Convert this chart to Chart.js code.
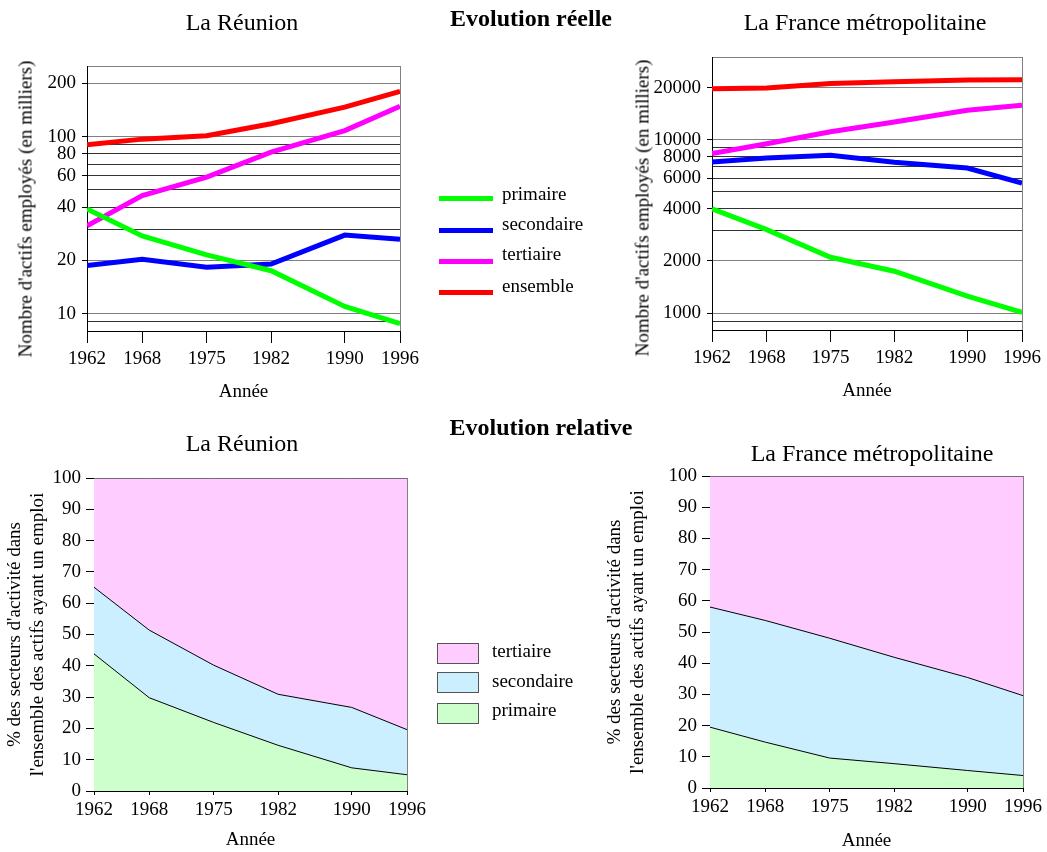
<!DOCTYPE html>
<html lang="fr">
<head>
<meta charset="utf-8">
<title>Evolution des actifs employés</title>
<script src="https://cdn.jsdelivr.net/npm/chart.js@4.4.0/dist/chart.umd.min.js"></script>
<style>
  body { margin: 0; background: #fff; font-family: 'Liberation Serif', 'Times New Roman', serif; color: #000; }
  #page { position: relative; width: 1047px; height: 852px; overflow: hidden; }
  #page canvas { position: absolute; left: 0; top: 0; }
  .txt { position: absolute; white-space: nowrap; line-height: 1; transform: translate(-50%, -50%); }
  .title { font-size: 24px; }
  .bold { font-weight: bold; }
  .ytitle { font-size: 19px; transform: translate(-50%, -50%) rotate(-90deg); }
  .leg { position: absolute; white-space: nowrap; line-height: 1; font-size: 19px; transform: translateY(-50%); }
  .swatch { position: absolute; height: 5px; width: 54px; }
  .box { position: absolute; width: 42px; height: 21px; border: 1px solid #555; box-sizing: border-box; }
</style>
</head>
<body>
<div id="page">
  <canvas id="c1" width="1047" height="852"></canvas>
  <canvas id="c2" width="1047" height="852"></canvas>
  <canvas id="c3" width="1047" height="852"></canvas>
  <canvas id="c4" width="1047" height="852"></canvas>

  <div class="txt title" style="left:242px; top:22px;">La Réunion</div>
  <div class="txt title bold" style="left:531px; top:18px;">Evolution réelle</div>
  <div class="txt title" style="left:865px; top:22px;">La France métropolitaine</div>
  <div class="txt title" style="left:242px; top:443px;">La Réunion</div>
  <div class="txt title bold" style="left:541px; top:427px;">Evolution relative</div>
  <div class="txt title" style="left:872px; top:453px;">La France métropolitaine</div>

  <div class="txt ytitle" style="left:25px; top:209px;">Nombre d'actifs employés (en milliers)</div>
  <div class="txt ytitle" style="left:642px; top:208px;">Nombre d'actifs employés (en milliers)</div>

  <div class="swatch" style="left:439px; top:196px; background:#00ff00;"></div>
  <div class="leg" style="left:502px; top:193px;">primaire</div>
  <div class="swatch" style="left:439px; top:228px; background:#0000ff;"></div>
  <div class="leg" style="left:502px; top:223px;">secondaire</div>
  <div class="swatch" style="left:439px; top:259px; background:#ff00ff;"></div>
  <div class="leg" style="left:502px; top:253px;">tertiaire</div>
  <div class="swatch" style="left:439px; top:290px; background:#ff0000;"></div>
  <div class="leg" style="left:502px; top:285px;">ensemble</div>

  <div class="box" style="left:437px; top:643px; background:#ffccff;"></div>
  <div class="leg" style="left:492px; top:650px;">tertiaire</div>
  <div class="box" style="left:437px; top:672px; background:#ccefff;"></div>
  <div class="leg" style="left:492px; top:680px;">secondaire</div>
  <div class="box" style="left:437px; top:703px; background:#ccffcc;"></div>
  <div class="leg" style="left:492px; top:709px;">primaire</div>
</div>

<script>
const years = [1962, 1968, 1975, 1982, 1990, 1996];

// La Réunion, actifs employés (milliers)
const reunionPrimaire = [39, 27.5, 21.5, 17.5, 11, 8.8];
const reunionSecondaire = [18.7, 20.3, 18.3, 19.1, 27.8, 26.3];
const reunionTertiaire = [31.4, 46.4, 59, 81.6, 108, 148];
const reunionEnsemble = [89.8, 96.7, 101, 118, 146.5, 180];

// France métropolitaine, actifs employés (milliers)
const francePrimaire = [4000, 3030, 2100, 1745, 1255, 1010];
const franceSecondaire = [7450, 7860, 8150, 7420, 6870, 5620];
const franceTertiaire = [8330, 9480, 11130, 12670, 14800, 15800];
const franceEnsemble = [19700, 19900, 21100, 21600, 22100, 22200];

// parts en %
const pctReunionPrimaire = [43.8, 29.8, 21.9, 14.6, 7.4, 5.2];
const pctReunionSecondaire = [21.3, 21.6, 18.3, 16.3, 19.3, 14.4];
const pctReunionTertiaire = [34.9, 48.6, 59.8, 69.1, 73.3, 80.4];
const pctFrancePrimaire = [19.5, 14.7, 9.6, 7.8, 5.6, 4.0];
const pctFranceSecondaire = [38.5, 39.0, 38.4, 34.1, 29.8, 25.6];
const pctFranceTertiaire = [42.0, 46.3, 52.0, 58.1, 64.6, 70.4];

// graduations
const reunionGrid = [8, 9, 10, 20, 30, 40, 50, 60, 70, 80, 90, 100, 200, 250];
const reunionLabels = [10, 20, 40, 60, 80, 100, 200];
const franceGrid = [800, 900, 1000, 2000, 3000, 4000, 5000, 6000, 7000, 8000, 9000, 10000, 20000, 30000];
const franceLabels = [1000, 2000, 4000, 6000, 8000, 10000, 20000];
const pctTicks = [0, 10, 20, 30, 40, 50, 60, 70, 80, 90, 100];

const serif = 'Liberation Serif';
Chart.defaults.font.family = serif;
Chart.defaults.color = '#000';

function points(vals) {
    return years.map((yr, i) => ({ x: yr, y: vals[i] }));
}

function yearAxis(height, tickLen, pad, titlePad) {
    return {
        type: 'linear',
        min: 1962,
        max: 1996,
        afterBuildTicks: s => { s.ticks = years.map(v => ({ value: v })); },
        afterFit: s => { s.height = height; s.paddingLeft = 0; s.paddingRight = 0; },
        ticks: { autoSkip: false, maxRotation: 0, padding: pad, color: '#000', font: { size: 19 }, callback: v => String(v) },
        grid: {
            color: c => c.index === years.length - 1 ? '#808080' : 'transparent',
            tickColor: '#000',
            tickLength: tickLen
        },
        border: { color: '#000' },
        title: { display: true, text: 'Année', color: '#000', font: { size: 19 }, padding: { top: 0, bottom: titlePad } }
    };
}

function logAxis(min, max, gridVals, labelVals, width) {
    return {
        type: 'logarithmic',
        min: min,
        max: max,
        afterBuildTicks: s => { s.ticks = gridVals.map(v => ({ value: v })); },
        afterFit: s => { s.width = width; s.paddingTop = 0; s.paddingBottom = 0; },
        ticks: { autoSkip: false, padding: 6, color: '#000', font: { size: 19 }, callback: v => labelVals.includes(v) ? String(v) : '' },
        grid: {
            color: c => {
                if (!c.tick) return '#333';
                let v = c.tick.value;
                if (v === min) return 'transparent';
                if (v === max) return '#808080';
                let lead = v / Math.pow(10, Math.floor(Math.log10(v) + 1e-9));
                return (Math.abs(lead - 1) < 1e-6 || Math.abs(lead - 2) < 1e-6) ? '#808080' : '#333';
            },
            tickColor: c => (c.tick && labelVals.includes(c.tick.value)) ? '#000' : 'transparent',
            tickLength: 5
        },
        border: { color: '#000' }
    };
}

function pctAxis(width) {
    return {
        stacked: true,
        min: 0,
        max: 100,
        afterBuildTicks: s => { s.ticks = pctTicks.map(v => ({ value: v })); },
        afterFit: s => { s.width = width; s.paddingTop = 0; s.paddingBottom = 0; },
        ticks: { autoSkip: false, padding: 5, color: '#000', font: { size: 19 }, callback: v => String(v) },
        grid: { drawOnChartArea: false, tickColor: '#000', tickLength: 8 },
        border: { color: '#000' },
        title: {
            display: true,
            text: ["% des secteurs d'activité dans", "l'ensemble des actifs ayant un emploi"],
            color: '#000',
            font: { size: 19 },
            padding: { top: 3.6, bottom: 0 }
        }
    };
}

function lineSet(label, vals, color) {
    return { label: label, data: points(vals), borderColor: color, backgroundColor: color, borderWidth: 5, pointRadius: 0, tension: 0, fill: false };
}

function areaSet(label, vals, color, fill) {
    return { label: label, data: points(vals), borderColor: '#000', borderWidth: 1, backgroundColor: color, pointRadius: 0, tension: 0, fill: fill };
}

const baseOptions = {
    responsive: false,
    animation: false,
    devicePixelRatio: 1,
    plugins: { legend: { display: false }, tooltip: { enabled: false } }
};

new Chart(document.getElementById('c1'), {
    type: 'line',
    data: {
        datasets: [
            lineSet('primaire', reunionPrimaire, '#00ff00'),
            lineSet('secondaire', reunionSecondaire, '#0000ff'),
            lineSet('tertiaire', reunionTertiaire, '#ff00ff'),
            lineSet('ensemble', reunionEnsemble, '#ff0000')
        ]
    },
    options: Object.assign({}, baseOptions, {
        layout: { padding: { left: 0, top: 66, right: 1047 - 400, bottom: 852 - 331 - 80 } },
        scales: {
            x: yearAxis(80, 12, 5, 7.6),
            y: logAxis(8, 250, reunionGrid, reunionLabels, 87)
        }
    })
});

new Chart(document.getElementById('c2'), {
    type: 'line',
    data: {
        datasets: [
            lineSet('primaire', francePrimaire, '#00ff00'),
            lineSet('secondaire', franceSecondaire, '#0000ff'),
            lineSet('tertiaire', franceTertiaire, '#ff00ff'),
            lineSet('ensemble', franceEnsemble, '#ff0000')
        ]
    },
    options: Object.assign({}, baseOptions, {
        layout: { padding: { left: 622, top: 57, right: 1047 - 1022, bottom: 852 - 330 - 80 } },
        scales: {
            x: yearAxis(80, 12, 5, 7.6),
            y: logAxis(800, 30000, franceGrid, franceLabels, 90)
        }
    })
});

new Chart(document.getElementById('c3'), {
    type: 'line',
    data: {
        datasets: [
            areaSet('primaire', pctReunionPrimaire, '#ccffcc', 'origin'),
            areaSet('secondaire', pctReunionSecondaire, '#ccefff', '-1'),
            areaSet('tertiaire', pctReunionTertiaire, '#ffccff', '-1')
        ]
    },
    options: Object.assign({}, baseOptions, {
        layout: { padding: { left: 0, top: 478, right: 1047 - 407, bottom: 0 } },
        scales: {
            x: yearAxis(61, 4, 4, 0.6),
            y: pctAxis(94)
        }
    })
});

new Chart(document.getElementById('c4'), {
    type: 'line',
    data: {
        datasets: [
            areaSet('primaire', pctFrancePrimaire, '#ccffcc', 'origin'),
            areaSet('secondaire', pctFranceSecondaire, '#ccefff', '-1'),
            areaSet('tertiaire', pctFranceTertiaire, '#ffccff', '-1')
        ]
    },
    options: Object.assign({}, baseOptions, {
        layout: { padding: { left: 600, top: 476, right: 1047 - 1023, bottom: 0 } },
        scales: {
            x: yearAxis(64, 4, 4, 0),
            y: pctAxis(110)
        }
    })
});
</script>
</body>
</html>
